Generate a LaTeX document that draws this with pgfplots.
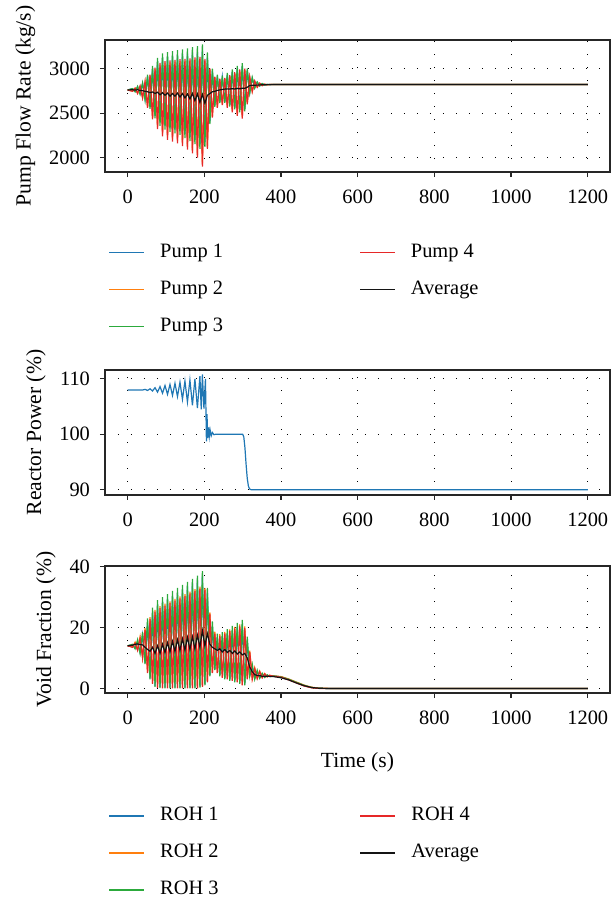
\documentclass[border=0pt]{standalone}
\usepackage{fontspec}
\setmainfont{Liberation Serif}
\usepackage{pgfplots}
\pgfplotsset{compat=1.18}
\definecolor{cb}{RGB}{31,119,180}
\definecolor{co}{RGB}{255,127,14}
\definecolor{cg}{RGB}{44,170,60}
\definecolor{cr}{RGB}{230,40,40}
\definecolor{ck}{RGB}{20,20,20}
\pgfplotsset{
  base/.style={
    scale only axis, width=252.5pt,
    xmin=-59, xmax=1258, xtick={0,200,...,1200},
    tick align=outside, tick pos=left, major tick length=2.5pt,
    grid=major,
    major grid style={black, line width=0.5pt, dash pattern=on 0.5pt off 6pt},
    axis line style={black!85, line width=0.6pt},
    tick style={black!85, line width=0.6pt},
    /pgf/number format/assume math mode=true,
    /pgf/number format/1000 sep={},
    scaled ticks=false,
    ticklabel style={font=\fontsize{10.2}{12}\selectfont},
    label style={font=\fontsize{10.8}{13}\selectfont},
    yticklabel style={xshift=-1.5pt},
    xticklabel style={yshift=-3pt},
    every axis plot/.append style={line width=0.6pt},
    legend image code/.code={\draw[##1, line width=0.9pt] (0pt,0pt) -- (17.5pt,0pt);},
  },
  leg/.style={
    legend columns=2,
    legend cell align=left,
    legend style={draw=none, fill=none, inner sep=0pt,
      font=\fontsize{10.2}{12}\selectfont,
      nodes={inner xsep=0pt, inner ysep=0pt, text height=7pt, text depth=2.5pt},
      row sep=9pt,
      /tikz/every odd column/.append style={column sep=7.5pt},
      /tikz/every even column/.append style={column sep=#1}},
  },
}
\begin{document}
\begin{tikzpicture}
\path[use as bounding box] (0,0) rectangle (307.5pt,451pt);
% ---------------- Pump flow ----------------
\begin{axis}[base, leg=68pt, at={(52.5pt,365pt)}, anchor=south west, height=66pt,
  ymin=1840, ymax=3320, ytick={2000,2500,3000},
  ylabel={Pump Flow Rate (kg/s)},
  legend style={at={(0.006,-0.535)}, anchor=north west}]
\addplot[cb, forget plot] coordinates {(0,2760) (13,2774) (19.5,2742) (26,2796) (32.5,2717) (39,2832) (45.5,2656) (52,2912) (58.5,2567) (65,3000) (71.5,2469) (78,3080) (84.5,2393) (91,3124) (97.5,2354) (104,3136) (110.5,2330) (117,3144) (123.5,2314) (130,3153) (136.5,2298) (143,3161) (149.5,2265) (156,3168) (162.5,2232) (169,3180) (175.5,2200) (182,3188) (188.5,2151) (195,3202) (201.5,2172) (208,3126) (214.5,2409) (221,2972) (227.5,2589) (234,2912) (240.5,2628) (247,2904) (253.5,2629) (260,2930) (266.5,2592) (273,2966) (279.5,2563) (286,3002) (292.5,2534) (299,3029) (305.5,2544) (312,2980) (318.5,2732) (325,2892) (331.5,2784) (338,2847) (344.5,2806) (351,2831) (357.5,2816) (364,2822) (370.5,2819) (380,2820) (1200,2820)};
\addplot[co, forget plot] coordinates {(0,2760) (13,2746) (19.5,2779) (26,2722) (32.5,2802) (39,2674) (45.5,2849) (52,2569) (58.5,2922) (65,2445) (71.5,2995) (78,2340) (84.5,3044) (91,2263) (97.5,3065) (104,2225) (110.5,3070) (117,2205) (123.5,3076) (130,2186) (136.5,3083) (143,2157) (149.5,3087) (156,2118) (162.5,3091) (169,2080) (175.5,3099) (182,2031) (188.5,3105) (195,1934) (201.5,3082) (208,2127) (214.5,2986) (221,2464) (227.5,2900) (234,2569) (240.5,2879) (247,2598) (253.5,2888) (260,2570) (266.5,2917) (273,2522) (279.5,2948) (286,2484) (292.5,2978) (299,2456) (305.5,2988) (312,2610) (318.5,2902) (325,2744) (331.5,2858) (338,2792) (344.5,2835) (351,2809) (357.5,2825) (364,2817) (370.5,2821) (380,2820) (1200,2820)};
\addplot[cg, forget plot] coordinates {(0,2760) (13,2775) (19.5,2740) (26,2800) (32.5,2712) (39,2840) (45.5,2646) (52,2930) (58.5,2548) (65,3030) (71.5,2441) (78,3120) (84.5,2358) (91,3170) (97.5,2316) (104,3185) (110.5,2290) (117,3195) (123.5,2273) (130,3205) (136.5,2256) (143,3215) (149.5,2221) (156,3225) (162.5,2186) (169,3240) (175.5,2152) (182,3250) (188.5,2099) (195,3270) (201.5,2123) (208,3180) (214.5,2378) (221,3000) (227.5,2572) (234,2930) (240.5,2614) (247,2920) (253.5,2615) (260,2950) (266.5,2574) (273,2990) (279.5,2542) (286,3030) (292.5,2510) (299,3060) (305.5,2520) (312,3000) (318.5,2723) (325,2900) (331.5,2780) (338,2850) (344.5,2804) (351,2832) (357.5,2815) (364,2823) (370.5,2819) (380,2822) (1200,2822)};
\addplot[cr, forget plot] coordinates {(0,2760) (13,2745) (19.5,2780) (26,2720) (32.5,2804) (39,2670) (45.5,2854) (52,2560) (58.5,2932) (65,2430) (71.5,3009) (78,2320) (84.5,3062) (91,2240) (97.5,3084) (104,2200) (110.5,3090) (117,2180) (123.5,3097) (130,2160) (136.5,3104) (143,2130) (149.5,3109) (156,2090) (162.5,3114) (169,2050) (175.5,3124) (182,2000) (188.5,3131) (195,1900) (201.5,3107) (208,2100) (214.5,3002) (221,2450) (227.5,2908) (234,2560) (240.5,2886) (247,2590) (253.5,2895) (260,2560) (266.5,2926) (273,2510) (279.5,2958) (286,2470) (292.5,2990) (299,2440) (305.5,3000) (312,2600) (318.5,2907) (325,2740) (331.5,2860) (338,2790) (344.5,2836) (351,2808) (357.5,2825) (364,2817) (370.5,2821) (380,2820) (1200,2820)};
\addplot[ck, forget plot] coordinates {(0,2760) (13,2762) (19.5,2758) (26,2762) (32.5,2755) (39,2752) (45.5,2745) (52,2740) (58.5,2730) (65,2738) (71.5,2720) (78,2735) (84.5,2705) (91,2730) (97.5,2700) (104,2725) (110.5,2690) (117,2720) (123.5,2690) (130,2725) (136.5,2680) (143,2720) (149.5,2670) (156,2715) (162.5,2660) (169,2720) (175.5,2640) (182,2715) (188.5,2620) (195,2710) (201.5,2610) (208,2700) (214.5,2720) (221,2740) (227.5,2745) (234,2755) (240.5,2760) (247,2765) (253.5,2770) (260,2772) (266.5,2770) (273,2775) (279.5,2770) (286,2778) (292.5,2772) (299,2780) (305.5,2778) (312,2790) (318.5,2810) (325,2812) (331.5,2812) (338,2815) (351,2818) (370,2820) (1200,2820)};
\addlegendimage{cb}\addlegendentry{Pump 1}
\addlegendimage{cr}\addlegendentry{Pump 4}
\addlegendimage{co}\addlegendentry{Pump 2}
\addlegendimage{ck}\addlegendentry{Average}
\addlegendimage{cg}\addlegendentry{Pump 3}
\end{axis}
% ---------------- Reactor power ----------------
\begin{axis}[base, at={(52.5pt,203.5pt)}, anchor=south west, height=62.5pt,
  ymin=89, ymax=111.6, ytick={90,100,110},
  ylabel={Reactor Power (\%)}]
\addplot[cb] coordinates {(0,108) (40,108) (45.5,108.1) (52,107.9) (58.5,108.2) (65,107.8) (71.5,108.4) (78,107.6) (84.5,108.6) (91,107.4) (97.5,108.8) (104,107.2) (110.5,109.0) (117,107.0) (123.5,109.2) (130,106.8) (136.5,109.4) (143,106.3) (149.5,109.6) (156,105.8) (162.5,109.8) (169,105.2) (175.5,110.0) (182,104.7) (188.5,110.5) (192,104.5) (195,110.8) (199,104.6) (203,110.0) (205.5,98.7) (207,103.6) (209,99.3) (211,101.2) (213,99.6) (215,100.8) (218,99.7) (221,100.3) (225,99.9) (230,100) (300,100) (303,99.5) (306,97.5) (309,94.5) (312,92) (315,90.6) (318,90.1) (322,89.95) (1200,89.95)};
\end{axis}
% ---------------- Void fraction ----------------
\begin{axis}[base, leg=70.5pt, at={(52.5pt,104.5pt)}, anchor=south west, height=63.5pt,
  ymin=-1.5, ymax=40.2, ytick={0,20,40},
  ylabel={Void Fraction (\%)}, xlabel={Time (s)},
  xlabel style={yshift=-7pt},
  legend style={at={(0.006,-0.89)}, anchor=north west}]
\addplot[cb, forget plot] coordinates {(0,14) (13,14.2) (19.5,13.3) (26,15) (32.5,11.8) (39,17.5) (45.5,8.3) (52,21.5) (58.5,3.3) (65,25) (71.5,0.8) (78,27.5) (84.5,0.4) (91,28.5) (97.5,0.3) (104,29.5) (110.5,0.3) (117,30.5) (123.5,0.3) (130,31.5) (136.5,0.3) (143,32.5) (149.5,0.3) (156,33.5) (162.5,0.3) (169,34.5) (175.5,0.3) (182,35.5) (188.5,0.6) (195,37) (201.5,1.3) (208,31.5) (214.5,4.3) (221,20.5) (227.5,6.3) (234,16.5) (240.5,4.3) (247,17) (253.5,3.3) (260,18) (266.5,2.8) (273,19) (279.5,2.3) (286,20) (292.5,1.8) (299,21) (305.5,1.3) (312,15.5) (318.5,4.3) (325,7) (331.5,3.3) (338,5.5) (344.5,3.5) (351,4.7) (357.5,3.7) (364,4.3) (370.5,3.9) (380,4.1) (400,3.8) (420,3.0) (440,2.0) (460,1.0) (480,0.3) (500,0.05) (520,0) (1200,0)};
\addplot[co, forget plot] coordinates {(0,14) (13,13.6) (19.5,15.2) (26,12.7) (32.5,17) (39,10.2) (45.5,19.8) (52,5.2) (58.5,23.4) (65,1.7) (71.5,25.8) (78,0.4) (84.5,27) (91,0.2) (97.5,27.8) (104,0.2) (110.5,28.6) (117,0.2) (123.5,29.4) (130,0.2) (136.5,30.2) (143,0.2) (149.5,31) (156,0.2) (162.5,31.8) (169,0.2) (175.5,32.6) (182,0.2) (188.5,33.4) (195,0.7) (201.5,33) (208,2.2) (214.5,25) (221,5.2) (227.5,18.6) (234,5.2) (240.5,17.8) (247,3.7) (253.5,18.6) (260,3.2) (266.5,19.4) (273,2.7) (279.5,20.2) (286,2.2) (292.5,21) (299,1.2) (305.5,20.4) (312,3.2) (318.5,12.4) (325,3.2) (331.5,6.8) (338,3.4) (344.5,5.7) (351,3.6) (357.5,4.9) (364,3.8) (370.5,4.3) (380,4.1) (400,3.9) (420,3.1) (440,2.1) (460,1.1) (480,0.4) (500,0.1) (530,0) (1200,0)};
\addplot[cg, forget plot] coordinates {(0,14) (13,14.5) (19.5,13) (26,16) (32.5,11.5) (39,18.5) (45.5,8) (52,23) (58.5,3) (65,26.5) (71.5,0.5) (78,29) (84.5,0.1) (91,30) (97.5,0) (104,31) (110.5,0) (117,32) (123.5,0) (130,33) (136.5,0) (143,34) (149.5,0) (156,35) (162.5,0) (169,36) (175.5,0) (182,37) (188.5,0.3) (195,38.5) (201.5,1) (208,33) (214.5,4) (221,22) (227.5,6) (234,18) (240.5,4) (247,18.5) (253.5,3) (260,19.5) (266.5,2.5) (273,20.5) (279.5,2) (286,21.5) (292.5,1.5) (299,22.5) (305.5,1) (312,17) (318.5,4) (325,8) (331.5,3) (338,6) (344.5,3.3) (351,5) (357.5,3.6) (364,4.5) (370.5,3.9) (380,4.1) (400,3.8) (420,3.0) (440,2.0) (460,1.0) (480,0.3) (500,0.05) (520,0) (1200,0)};
\addplot[cr, forget plot] coordinates {(0,14) (13,13.5) (19.5,14.8) (26,12.5) (32.5,16.4) (39,10) (45.5,19.2) (52,5) (58.5,22.8) (65,1.5) (71.5,25.2) (78,0.2) (84.5,26.4) (91,0) (97.5,27.2) (104,0) (110.5,28) (117,0) (123.5,28.8) (130,0) (136.5,29.6) (143,0) (149.5,30.4) (156,0) (162.5,31.2) (169,0) (175.5,32) (182,0) (188.5,32.8) (195,0.5) (201.5,32.4) (208,2) (214.5,24.4) (221,5) (227.5,18) (234,5) (240.5,17.2) (247,3.5) (253.5,18) (260,3) (266.5,18.8) (273,2.5) (279.5,19.6) (286,2) (292.5,20.4) (299,1) (305.5,19.8) (312,3) (318.5,12) (325,3) (331.5,6.5) (338,3.2) (344.5,5.5) (351,3.5) (357.5,4.8) (364,3.8) (370.5,4.3) (380,4.0) (400,3.7) (420,2.8) (440,1.8) (460,0.8) (480,0.2) (500,0) (1200,0)};
\addplot[ck, forget plot] coordinates {(0,14) (13,14.2) (19.5,14.5) (26,14.6) (32.5,14.4) (39,14.3) (45.5,13.5) (52,12.8) (58.5,12.2) (65,13.5) (71.5,11.5) (78,14) (84.5,11.5) (91,14.5) (97.5,11.8) (104,15) (110.5,12) (117,15.5) (123.5,12.2) (130,16) (136.5,12.5) (143,16.3) (149.5,12.6) (156,16.8) (162.5,12.8) (169,17) (175.5,13) (182,17.5) (188.5,13.5) (195,19) (201.5,14) (208,18) (214.5,14.5) (221,13.5) (227.5,13) (234,12.5) (240.5,13) (247,12) (253.5,12.8) (260,11.8) (266.5,12.5) (273,11.5) (279.5,12.3) (286,11.3) (292.5,12) (299,11) (305.5,11.5) (312,10) (318.5,7) (325,5.5) (331.5,4.5) (338,4.3) (344.5,4.2) (351,4.0) (364,4.0) (380,3.9) (400,3.5) (420,2.8) (440,1.8) (460,0.9) (480,0.3) (500,0.05) (520,0) (1200,0)};
\addlegendimage{cb}\addlegendentry{ROH 1}
\addlegendimage{cr}\addlegendentry{ROH 4}
\addlegendimage{co}\addlegendentry{ROH 2}
\addlegendimage{ck}\addlegendentry{Average}
\addlegendimage{cg}\addlegendentry{ROH 3}
\end{axis}
\end{tikzpicture}
\end{document}
